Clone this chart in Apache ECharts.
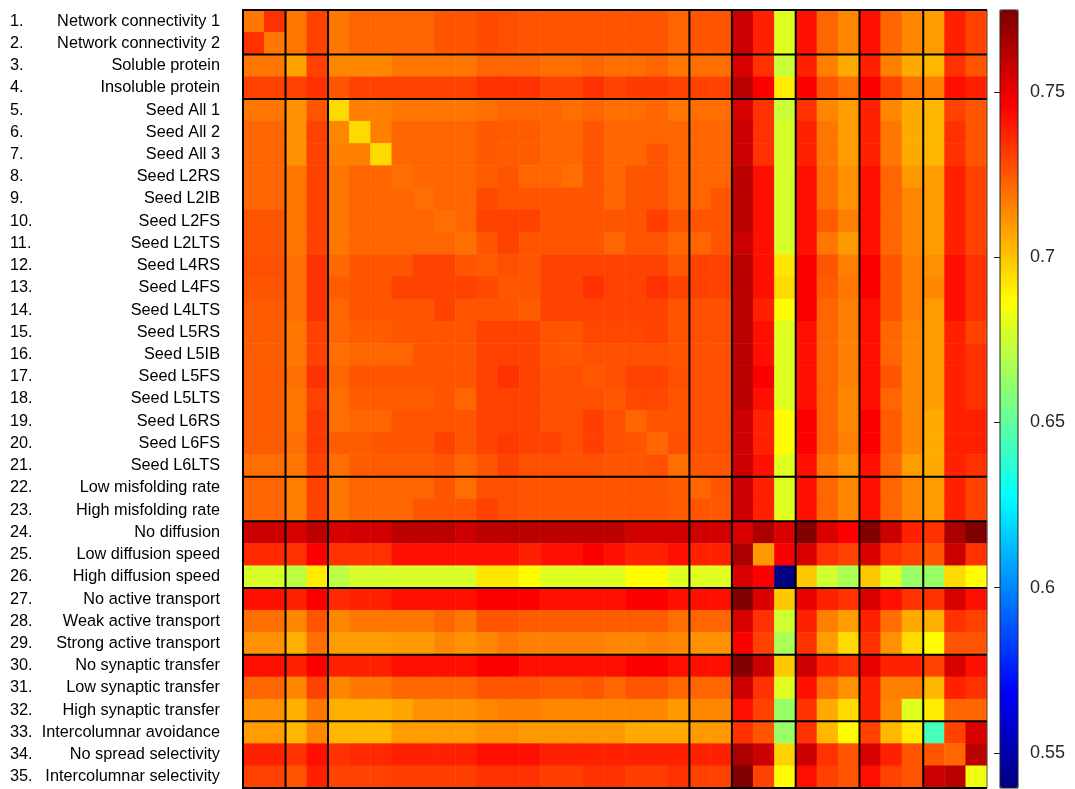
<!DOCTYPE html>
<html><head><meta charset="utf-8">
<script src="https://cdn.jsdelivr.net/npm/echarts@6/dist/echarts.min.js"></script>
<style>html,body{margin:0;padding:0;background:#fff}#c{width:1075px;height:789px}</style>
</head><body><div id="c"></div>
<script>
const names = ["Network connectivity 1","Network connectivity 2","Soluble protein","Insoluble protein","Seed All 1","Seed All 2","Seed All 3","Seed L2RS","Seed L2IB","Seed L2FS","Seed L2LTS","Seed L4RS","Seed L4FS","Seed L4LTS","Seed L5RS","Seed L5IB","Seed L5FS","Seed L5LTS","Seed L6RS","Seed L6FS","Seed L6LTS","Low misfolding rate","High misfolding rate","No diffusion","Low diffusion speed","High diffusion speed","No active transport","Weak active transport","Strong active transport","No synaptic transfer","Low synaptic transfer","High synaptic transfer","Intercolumnar avoidance","No spread selectivity","Intercolumnar selectivity"];
const numbers = names.map((_, i) => (i + 1) + ".");
const groupBreaks = [2, 4, 21, 23, 26, 29, 32];
const cbTicks = [0.55, 0.6, 0.65, 0.7, 0.75];
const cbMin = 0.5394, cbMax = 0.7748;

const row01 = [0.718,0.734,0.718,0.730,0.718,0.722,0.722,0.722,0.722,0.726,0.726,0.728,0.727,0.726,0.726,0.726,0.726,0.726,0.726,0.726,0.722,0.726,0.726,0.757,0.738,0.679,0.742,0.722,0.714,0.742,0.722,0.714,0.709,0.738,0.730];
const row02 = [0.734,0.718,0.718,0.730,0.718,0.722,0.722,0.722,0.722,0.726,0.726,0.728,0.727,0.726,0.726,0.726,0.726,0.726,0.726,0.726,0.722,0.726,0.726,0.757,0.738,0.679,0.742,0.722,0.714,0.742,0.722,0.714,0.709,0.738,0.730];
const row03 = [0.718,0.718,0.708,0.730,0.714,0.714,0.714,0.718,0.718,0.718,0.718,0.722,0.722,0.722,0.720,0.720,0.722,0.720,0.720,0.722,0.718,0.720,0.720,0.754,0.734,0.674,0.738,0.716,0.706,0.738,0.716,0.706,0.703,0.734,0.726];
const row04 = [0.730,0.730,0.730,0.734,0.726,0.730,0.730,0.730,0.730,0.730,0.730,0.734,0.734,0.734,0.730,0.730,0.734,0.730,0.732,0.732,0.730,0.730,0.730,0.761,0.746,0.691,0.746,0.726,0.720,0.746,0.730,0.720,0.716,0.742,0.738];
const row05 = [0.718,0.718,0.712,0.726,0.695,0.716,0.716,0.718,0.718,0.718,0.718,0.720,0.722,0.722,0.722,0.720,0.722,0.720,0.720,0.722,0.718,0.720,0.720,0.754,0.734,0.674,0.734,0.714,0.709,0.738,0.714,0.706,0.703,0.730,0.726];
const row06 = [0.722,0.722,0.712,0.730,0.714,0.695,0.716,0.722,0.722,0.722,0.722,0.725,0.724,0.724,0.722,0.722,0.726,0.722,0.722,0.722,0.722,0.722,0.722,0.757,0.734,0.677,0.738,0.718,0.709,0.738,0.718,0.706,0.703,0.734,0.726];
const row07 = [0.722,0.722,0.712,0.730,0.716,0.716,0.695,0.722,0.722,0.722,0.722,0.725,0.724,0.724,0.722,0.722,0.726,0.722,0.722,0.726,0.722,0.722,0.722,0.757,0.734,0.677,0.738,0.718,0.709,0.738,0.718,0.706,0.703,0.734,0.726];
const row08 = [0.722,0.722,0.718,0.730,0.718,0.722,0.722,0.720,0.722,0.722,0.722,0.724,0.726,0.722,0.722,0.720,0.726,0.722,0.726,0.726,0.722,0.722,0.722,0.761,0.742,0.677,0.742,0.720,0.712,0.742,0.722,0.710,0.709,0.738,0.730];
const row09 = [0.722,0.722,0.718,0.730,0.718,0.722,0.722,0.722,0.720,0.722,0.722,0.728,0.726,0.726,0.726,0.726,0.726,0.722,0.726,0.726,0.722,0.722,0.726,0.761,0.742,0.677,0.742,0.720,0.712,0.742,0.722,0.714,0.709,0.738,0.730];
const row10 = [0.726,0.726,0.718,0.730,0.718,0.722,0.722,0.722,0.722,0.720,0.722,0.730,0.730,0.730,0.726,0.726,0.726,0.726,0.726,0.731,0.726,0.726,0.726,0.761,0.742,0.677,0.742,0.724,0.716,0.742,0.722,0.714,0.709,0.738,0.730];
const row11 = [0.726,0.726,0.718,0.730,0.718,0.722,0.722,0.722,0.722,0.722,0.720,0.726,0.730,0.726,0.726,0.726,0.726,0.722,0.726,0.726,0.722,0.722,0.726,0.757,0.742,0.677,0.742,0.718,0.710,0.742,0.722,0.714,0.709,0.738,0.730];
const row12 = [0.727,0.727,0.720,0.734,0.721,0.726,0.726,0.726,0.730,0.730,0.726,0.724,0.727,0.726,0.730,0.730,0.730,0.730,0.730,0.730,0.725,0.730,0.730,0.761,0.742,0.692,0.746,0.726,0.716,0.746,0.726,0.716,0.712,0.742,0.734];
const row13 = [0.726,0.726,0.720,0.734,0.724,0.726,0.726,0.730,0.730,0.730,0.730,0.728,0.725,0.726,0.730,0.730,0.734,0.730,0.730,0.734,0.730,0.730,0.730,0.761,0.742,0.695,0.746,0.724,0.718,0.746,0.726,0.716,0.714,0.742,0.734];
const row14 = [0.724,0.724,0.720,0.734,0.722,0.726,0.726,0.726,0.726,0.730,0.726,0.726,0.726,0.724,0.730,0.730,0.730,0.730,0.730,0.730,0.726,0.727,0.727,0.761,0.738,0.687,0.746,0.722,0.716,0.742,0.726,0.716,0.709,0.742,0.734];
const row15 = [0.724,0.724,0.718,0.730,0.722,0.724,0.724,0.726,0.726,0.726,0.726,0.730,0.730,0.730,0.726,0.726,0.729,0.729,0.729,0.730,0.726,0.727,0.727,0.761,0.742,0.679,0.742,0.722,0.716,0.742,0.722,0.714,0.709,0.738,0.730];
const row16 = [0.724,0.724,0.718,0.730,0.720,0.722,0.722,0.722,0.726,0.726,0.726,0.730,0.730,0.730,0.726,0.725,0.727,0.727,0.727,0.727,0.726,0.727,0.727,0.761,0.742,0.679,0.742,0.722,0.716,0.742,0.722,0.714,0.709,0.738,0.734];
const row17 = [0.724,0.724,0.720,0.734,0.722,0.726,0.726,0.726,0.726,0.726,0.726,0.730,0.734,0.730,0.727,0.727,0.725,0.727,0.730,0.730,0.727,0.727,0.727,0.761,0.746,0.679,0.742,0.722,0.716,0.742,0.726,0.714,0.709,0.738,0.734];
const row18 = [0.724,0.724,0.718,0.730,0.720,0.724,0.724,0.724,0.724,0.726,0.722,0.730,0.730,0.730,0.727,0.727,0.727,0.725,0.729,0.729,0.726,0.727,0.727,0.761,0.742,0.679,0.742,0.722,0.714,0.742,0.722,0.714,0.709,0.738,0.734];
const row19 = [0.724,0.724,0.718,0.732,0.720,0.722,0.722,0.726,0.726,0.726,0.726,0.730,0.730,0.730,0.727,0.727,0.731,0.727,0.722,0.726,0.726,0.727,0.727,0.757,0.738,0.687,0.746,0.722,0.714,0.746,0.724,0.714,0.706,0.738,0.738];
const row20 = [0.724,0.724,0.720,0.732,0.724,0.724,0.726,0.726,0.726,0.730,0.726,0.730,0.732,0.730,0.730,0.727,0.731,0.727,0.726,0.722,0.727,0.727,0.727,0.757,0.738,0.687,0.746,0.722,0.716,0.746,0.724,0.714,0.706,0.738,0.738];
const row21 = [0.720,0.720,0.718,0.730,0.720,0.724,0.724,0.724,0.724,0.726,0.722,0.726,0.730,0.727,0.727,0.727,0.727,0.726,0.726,0.727,0.720,0.726,0.726,0.757,0.742,0.679,0.742,0.718,0.712,0.742,0.722,0.709,0.706,0.738,0.734];
const row22 = [0.722,0.722,0.716,0.730,0.718,0.722,0.722,0.722,0.722,0.726,0.720,0.727,0.727,0.726,0.726,0.726,0.726,0.726,0.726,0.726,0.724,0.722,0.726,0.757,0.738,0.679,0.742,0.722,0.714,0.742,0.722,0.714,0.709,0.738,0.730];
const row23 = [0.722,0.722,0.716,0.730,0.718,0.722,0.722,0.722,0.726,0.726,0.726,0.730,0.727,0.726,0.726,0.726,0.726,0.726,0.726,0.726,0.724,0.726,0.725,0.757,0.738,0.679,0.742,0.722,0.714,0.742,0.722,0.714,0.709,0.738,0.730];
const row24 = [0.757,0.757,0.754,0.761,0.754,0.756,0.756,0.761,0.761,0.761,0.757,0.761,0.761,0.761,0.761,0.761,0.761,0.761,0.756,0.756,0.756,0.756,0.756,0.754,0.765,0.754,0.774,0.754,0.746,0.774,0.757,0.738,0.734,0.765,0.775];
const row25 = [0.736,0.736,0.734,0.746,0.734,0.734,0.734,0.742,0.742,0.742,0.742,0.742,0.742,0.738,0.742,0.742,0.746,0.742,0.738,0.738,0.742,0.738,0.738,0.765,0.710,0.746,0.754,0.734,0.730,0.754,0.734,0.730,0.726,0.757,0.734];
const row26 = [0.677,0.677,0.671,0.691,0.671,0.677,0.677,0.677,0.677,0.677,0.677,0.692,0.692,0.687,0.679,0.679,0.679,0.679,0.687,0.687,0.679,0.679,0.679,0.754,0.746,0.540,0.699,0.675,0.667,0.699,0.679,0.663,0.663,0.695,0.687];
const row27 = [0.742,0.742,0.738,0.746,0.736,0.738,0.738,0.742,0.742,0.742,0.742,0.746,0.746,0.746,0.742,0.742,0.742,0.742,0.746,0.746,0.742,0.742,0.742,0.774,0.754,0.699,0.750,0.738,0.734,0.754,0.742,0.734,0.734,0.754,0.742];
const row28 = [0.720,0.720,0.714,0.726,0.714,0.718,0.718,0.718,0.718,0.722,0.718,0.726,0.726,0.724,0.724,0.724,0.724,0.724,0.724,0.724,0.720,0.722,0.722,0.754,0.734,0.675,0.738,0.716,0.709,0.738,0.720,0.706,0.705,0.734,0.730];
const row29 = [0.712,0.712,0.705,0.720,0.709,0.709,0.709,0.710,0.710,0.714,0.712,0.714,0.718,0.716,0.716,0.716,0.716,0.714,0.714,0.716,0.714,0.712,0.712,0.746,0.730,0.667,0.734,0.709,0.695,0.734,0.712,0.695,0.687,0.726,0.726];
const row30 = [0.742,0.742,0.738,0.746,0.738,0.738,0.738,0.742,0.742,0.742,0.742,0.746,0.746,0.742,0.742,0.742,0.742,0.742,0.746,0.746,0.742,0.742,0.742,0.774,0.757,0.699,0.757,0.738,0.734,0.750,0.738,0.738,0.730,0.754,0.742];
const row31 = [0.722,0.722,0.714,0.730,0.714,0.718,0.718,0.722,0.722,0.722,0.722,0.726,0.726,0.726,0.724,0.724,0.726,0.722,0.726,0.726,0.722,0.722,0.722,0.757,0.734,0.679,0.742,0.720,0.712,0.738,0.716,0.716,0.703,0.738,0.734];
const row32 = [0.712,0.712,0.705,0.718,0.705,0.705,0.705,0.707,0.712,0.712,0.712,0.714,0.716,0.716,0.714,0.714,0.714,0.714,0.714,0.714,0.710,0.714,0.714,0.742,0.730,0.663,0.734,0.706,0.695,0.738,0.714,0.679,0.691,0.722,0.722];
const row33 = [0.709,0.709,0.703,0.714,0.703,0.703,0.703,0.709,0.709,0.709,0.709,0.712,0.712,0.710,0.710,0.710,0.710,0.710,0.706,0.706,0.706,0.710,0.710,0.734,0.726,0.663,0.734,0.703,0.687,0.730,0.703,0.691,0.644,0.730,0.754];
const row34 = [0.738,0.738,0.734,0.742,0.734,0.736,0.736,0.738,0.738,0.738,0.738,0.742,0.742,0.742,0.738,0.738,0.738,0.738,0.738,0.738,0.738,0.738,0.738,0.765,0.757,0.697,0.757,0.734,0.726,0.754,0.738,0.726,0.726,0.722,0.761];
const row35 = [0.730,0.730,0.726,0.738,0.730,0.730,0.730,0.731,0.731,0.731,0.731,0.734,0.734,0.734,0.731,0.731,0.734,0.734,0.731,0.731,0.734,0.730,0.730,0.774,0.730,0.687,0.742,0.730,0.726,0.742,0.730,0.726,0.757,0.761,0.683];

const rows = [row01,row02,row03,row04,row05,row06,row07,row08,row09,row10,row11,row12,row13,row14,row15,row16,row17,row18,row19,row20,row21,row22,row23,row24,row25,row26,row27,row28,row29,row30,row31,row32,row33,row34,row35];
const n = names.length;
const cells = [];
rows.forEach((r, i) => r.forEach((v, j) => cells.push([j, i, v])));

const jet = ['#00007F','#0000FF','#007FFF','#00FFFF','#7FFF7F','#FFFF00','#FF7F00','#FF0000','#7F0000'];
const font = "'Liberation Sans', Arial, Helvetica, sans-serif";

const lineSeries = [];
function seg(data, color, width) {
  lineSeries.push({type:'line', xAxisIndex:1, yAxisIndex:1, data:data, symbol:'none', clip:false, silent:true, z:5,
    lineStyle:{color:color, width:width}, animation:false});
}
const hb = [0, ...groupBreaks, n];
hb.forEach(b => seg([[-1, b], [n, b]], '#000', 2));
[0, ...groupBreaks].forEach(b => seg([[b, 0], [b, n]], '#000', 2));
seg([[n, 0], [n, n]], '#555', 1);

const chart = echarts.init(document.getElementById('c'), null, {renderer:'canvas'});
chart.setOption({
  animation:false,
  backgroundColor:'#fff',
  textStyle:{fontFamily:font},
  grid:[
    {left:243, top:10, width:744, height:778, containLabel:false, outerBoundsMode:'none'},
    {left:1000, top:10, width:18, height:778, containLabel:false, outerBoundsMode:'none', show:true, borderColor:'#222', borderWidth:1, backgroundColor:'transparent', z:20}
  ],
  xAxis:[
    {type:'category', gridIndex:0, data:names.map((_, i) => i), show:false},
    {type:'value', gridIndex:0, min:0, max:n, show:false},
    {type:'value', gridIndex:1, show:false}
  ],
  yAxis:[
    {type:'category', gridIndex:0, data:names, inverse:true, position:'left',
      axisLine:{show:false}, axisTick:{show:false}, splitLine:{show:false},
      axisLabel:{margin:23, fontSize:16.3, color:'#000', align:'right', fontFamily:font}},
    {type:'value', gridIndex:0, min:0, max:n, inverse:true, show:false, position:'right'},
    {type:'category', gridIndex:0, data:numbers, inverse:true, position:'left',
      axisLine:{show:false}, axisTick:{show:false}, splitLine:{show:false},
      axisLabel:{margin:233, fontSize:16.3, color:'#000', align:'left', fontFamily:font}},
    {type:'value', gridIndex:1, min:cbMin, max:cbMax, position:'right', z:30,
      axisLine:{show:false}, splitLine:{show:false},
      axisTick:{show:true, inside:false, length:-6, lineStyle:{color:'#222', width:1}, customValues:cbTicks},
      axisLabel:{margin:12, fontSize:18, color:'#262626', fontFamily:font, customValues:cbTicks}}
  ],
  visualMap:{
    type:'continuous', seriesIndex:0, dimension:2, min:cbMin, max:cbMax, z:1,
    calculable:false, hoverLink:false, realtime:false, padding:0,
    left:1000, top:10, itemWidth:18, itemHeight:778, orient:'vertical',
    inRange:{color:jet}
  },
  series:[
    {type:'heatmap', xAxisIndex:0, yAxisIndex:0, data:cells, silent:true,
      itemStyle:{borderWidth:0}, emphasis:{disabled:true}, progressive:0}
  ].concat(lineSeries)
});
</script>
</body></html>
